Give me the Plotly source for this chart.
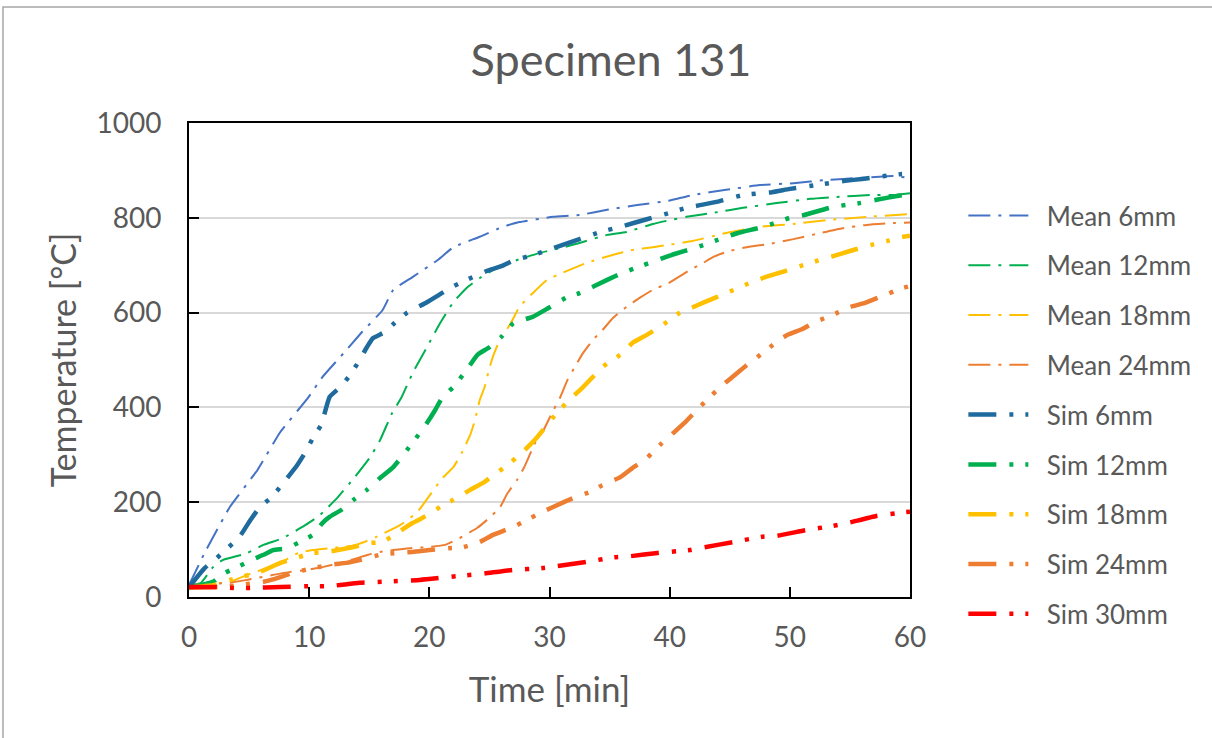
import plotly.graph_objects as go

# ---- data (time in min, temperature in °C) ----
t_mean6 = [0, 1.3, 3.4, 5.7, 7.6, 9.9, 11.1, 13.1, 14.4, 16.1, 17.0, 18.6, 20.7, 22, 24.2, 26.1, 27.5, 30.3, 32.5, 34.8, 37.3, 39.9, 41.9, 44.7, 47.5, 50.3, 53.1, 55.8, 58.6, 60]
T_mean6 = [25, 93, 190, 268, 348, 420, 464, 521, 559, 605, 648, 675, 711, 738, 760, 781, 791, 802, 806, 817, 827, 836, 848, 859, 869, 873, 880, 884, 888, 884]

t_mean12 = [0, 1, 2, 2.8, 4.8, 6.2, 7.8, 9.7, 10.9, 12.3, 13.7, 15.1, 15.9, 16.9, 17.7, 18.6, 19.8, 20.9, 22, 23.1, 24.2, 25.6, 27.3, 29.2, 30.9, 32.5, 34.8, 36.4, 38.6, 40, 41.4, 44, 46.1, 48.9, 51.7, 53.9, 56.7, 58.6, 60]
T_mean12 = [25, 30, 63, 78, 92, 110, 124, 152, 173, 208, 250, 296, 331, 388, 422, 472, 527, 578, 622, 652, 673, 694, 711, 726, 736, 747, 764, 770, 787, 795, 802, 812, 821, 831, 840, 844, 848, 848, 852]

t_mean18 = [0, 2, 3.4, 4.4, 5.3, 6.5, 7.6, 9.1, 10.3, 11.7, 13.6, 14.6, 15.6, 17.6, 19, 20.3, 21.1, 22, 22.7, 23.4, 23.8, 24.2, 24.6, 24.9, 25.2, 25.6, 26, 26.7, 27.5, 28.6, 29.8, 31.1, 33.1, 35.3, 36.9, 38.6, 39.9, 41.9, 44.7, 47.5, 50.3, 53.1, 56.4, 60]
T_mean18 = [25, 28, 32, 42, 51, 61, 72, 93, 99, 103, 108, 116, 127, 152, 179, 224, 251, 274, 304, 342, 373, 416, 443, 473, 500, 527, 549, 574, 612, 641, 669, 684, 705, 722, 732, 738, 743, 751, 768, 781, 787, 795, 802, 808]

t_mean24 = [0, 3.4, 4.8, 8.4, 9.8, 11.1, 12.6, 14, 14.9, 15.9, 17, 18.4, 19.8, 21.3, 22.5, 24, 25, 25.9, 26.5, 27.3, 27.9, 28.8, 29.5, 30.2, 30.9, 31.5, 32.1, 32.8, 33.6, 34.4, 35.3, 36.4, 37.5, 38.6, 39.9, 41.7, 42.8, 43.6, 44.7, 46.4, 48.3, 50.3, 52.2, 54.4, 56.4, 58.6, 60]
T_mean24 = [25, 30, 36, 53, 57, 63, 72, 82, 89, 95, 99, 103, 105, 110, 124, 146, 167, 190, 219, 247, 274, 325, 352, 388, 422, 458, 485, 515, 542, 563, 589, 612, 631, 648, 662, 690, 705, 717, 728, 738, 745, 755, 766, 778, 785, 789, 790]

t_sim6 = [0, 1.3, 2.3, 4.2, 5.1, 5.9, 6.9, 7.7, 9.0, 9.7, 10.3, 11.0, 11.7, 12.6, 13.4, 14.2, 14.8, 15.3, 16.3, 17.1, 18.1, 19.8, 21.9, 23.1, 24.8, 26.0, 27.1, 28.6, 30.3, 32.5, 34.2, 35.9, 38.1, 39.4, 41.4, 43.8, 46.1, 48.5, 50, 52.2, 54.6, 56, 59.2, 60]
T_sim6 = [21, 61, 82, 127, 162, 190, 211, 236, 278, 306, 335, 363, 422, 443, 468, 500, 527, 546, 559, 578, 599, 622, 654, 669, 688, 698, 711, 721, 736, 755, 770, 781, 797, 806, 821, 833, 848, 854, 861, 869, 878, 882, 892, 893]

t_sim12 = [0, 2, 3, 4, 5.2, 6.2, 7, 8.2, 9.2, 10.3, 11.1, 11.7, 12.7, 13.7, 14.8, 15.9, 17, 18.6, 19.8, 20.5, 21.1, 22, 23.1, 24, 25, 26, 27, 28.6, 29.8, 31.5, 32.5, 34.8, 36.1, 37.8, 39, 40.2, 42.3, 44.4, 45.7, 47.8, 50, 51.2, 53.6, 55.8, 57.2, 59.4, 60]
T_sim12 = [19, 32, 51, 63, 78, 89, 99, 103, 116, 131, 156, 169, 184, 205, 226, 251, 274, 325, 367, 395, 422, 443, 479, 511, 527, 549, 578, 591, 608, 633, 641, 669, 684, 700, 711, 722, 738, 757, 768, 781, 800, 806, 823, 831, 838, 848, 850]

t_sim18 = [0, 2, 3.4, 5.9, 7.6, 9.1, 10.3, 11.5, 13.6, 15.1, 16.1, 17.3, 18.6, 19.9, 20.9, 22, 23.4, 24.6, 25.6, 26.5, 27.5, 28.1, 28.9, 30.6, 31.9, 32.8, 33.6, 34.4, 36.1, 36.9, 38.1, 39.2, 40.8, 41.8, 42.9, 44.7, 46.9, 48.2, 49.4, 51.1, 52.5, 53.6, 55, 56.8, 58.1, 59.3, 60]
T_sim18 = [20, 25, 36, 53, 72, 84, 93, 95, 105, 114, 116, 135, 156, 173, 190, 205, 226, 243, 262, 278, 300, 314, 335, 388, 422, 443, 464, 485, 515, 536, 553, 570, 599, 610, 622, 641, 665, 677, 686, 700, 711, 719, 730, 743, 751, 759, 762]

t_sim24 = [0, 3, 6.2, 7.6, 8.6, 11.7, 13.1, 14.2, 15.9, 17.3, 18.6, 20, 21.6, 22.8, 24.2, 25.3, 27, 28.1, 29.2, 30.3, 32, 33.4, 34.4, 35.9, 37, 38.1, 39.2, 40.3, 41.3, 42.1, 43.1, 44.4, 45.4, 46.4, 47.3, 48.9, 49.8, 51, 52.1, 53.9, 55, 56.2, 57.5, 59.4, 60]
T_sim24 = [20, 22, 32, 42, 51, 68, 72, 78, 89, 93, 95, 99, 103, 105, 116, 131, 148, 162, 177, 190, 209, 222, 236, 253, 274, 293, 321, 346, 369, 390, 416, 447, 468, 489, 506, 538, 553, 565, 580, 599, 612, 620, 633, 652, 656]

t_sim30 = [0, 2.3, 3.7, 5.1, 7.6, 10.3, 11.7, 14.2, 19.2, 23.1, 24.4, 26.9, 29.4, 30.6, 33.1, 35.4, 36.7, 39, 41.7, 42.9, 45.3, 47.7, 48.9, 51.3, 53.6, 54.8, 57.2, 59.6, 60]
T_sim30 = [21, 21, 19, 19, 21, 23, 23, 30, 36, 46, 49, 57, 61, 65, 74, 84, 86, 93, 99, 105, 116, 127, 129, 141, 150, 156, 171, 179, 180]

x_ticks = [0, 10, 20, 30, 40, 50, 60]
y_ticks = [0, 200, 400, 600, 800, 1000]

# ---- styling ----
FONT = "Lato"
GRAY = "#595959"
MEAN_DASH = "22px,8px,3px,8px"
SIM_DASH = "28px,13px,4px,12px,4px,13px"
PAD = "\u00a0\u00a0"

series = [
    ("Mean 6mm", t_mean6, T_mean6, "#4472C4", 2, MEAN_DASH),
    ("Mean 12mm", t_mean12, T_mean12, "#00B050", 2, MEAN_DASH),
    ("Mean 18mm", t_mean18, T_mean18, "#FFC000", 2, MEAN_DASH),
    ("Mean 24mm", t_mean24, T_mean24, "#ED7D31", 2, MEAN_DASH),
    ("Sim 6mm", t_sim6, T_sim6, "#1F6B9E", 4.5, SIM_DASH),
    ("Sim 12mm", t_sim12, T_sim12, "#00B050", 4.5, SIM_DASH),
    ("Sim 18mm", t_sim18, T_sim18, "#FFC000", 4.5, SIM_DASH),
    ("Sim 24mm", t_sim24, T_sim24, "#ED7D31", 4.5, SIM_DASH),
    ("Sim 30mm", t_sim30, T_sim30, "#FF0000", 4.5, SIM_DASH),
]

fig = go.Figure()
for name, t, T, color, w, dash in series:
    fig.add_trace(go.Scatter(
        x=t, y=T, mode="lines", name=PAD + name, legendgroup=name,
        line=dict(color=color, width=w, dash=dash, shape="spline", smoothing=0.4),
    ))

fig.update_layout(
    width=1212, height=738,
    margin=dict(l=189, r=302, t=123, b=141),
    paper_bgcolor="white", plot_bgcolor="white",
    font=dict(family=FONT, color=GRAY, size=28),
    title=dict(text="Specimen 131", x=611 / 1212, xanchor="center", xref="container",
               y=1 - 60 / 738, yanchor="middle",
               font=dict(family=FONT, size=45, color=GRAY)),
    showlegend=True,
    legend=dict(x=1.074, xanchor="left", y=(597 - 192) / 474, yanchor="top",
                font=dict(family=FONT, size=26, color=GRAY),
                traceorder="grouped", tracegroupgap=13, itemwidth=60,
                bgcolor="rgba(0,0,0,0)"),
)

fig.update_xaxes(
    range=[0, 60], tickvals=x_ticks, ticks="inside", ticklen=10, tickwidth=2,
    tickcolor="black", showline=True, linecolor="black", linewidth=2, mirror=True,
    showgrid=False, zeroline=False, ticklabelstandoff=14, automargin=False,
    tickfont=dict(family=FONT, size=28, color=GRAY),
    title=dict(text="Time [min]", font=dict(family=FONT, size=35, color=GRAY), standoff=26),
)
fig.update_yaxes(
    range=[0, 1000], tickvals=y_ticks, ticks="inside", ticklen=10, tickwidth=2,
    tickcolor="black", showline=True, linecolor="black", linewidth=2, mirror=True,
    showgrid=True, gridcolor="#D9D9D9", gridwidth=2, zeroline=False, ticklabelstandoff=20,
    automargin=False,
    tickfont=dict(family=FONT, size=28, color=GRAY),
    title=dict(text="Temperature [°C]", font=dict(family=FONT, size=34, color=GRAY), standoff=10),
)

# outer chart frame (only top and left edges visible in the original crop)
fig.add_shape(type="rect", xref="paper", yref="paper",
              x0=(3 - 189) / 721, x1=(1230 - 189) / 721,
              y0=(597 - 760) / 474, y1=(597 - 7) / 474,
              line=dict(color="#A6A6A6", width=1.5), layer="below")

fig.write_html("out.html")
